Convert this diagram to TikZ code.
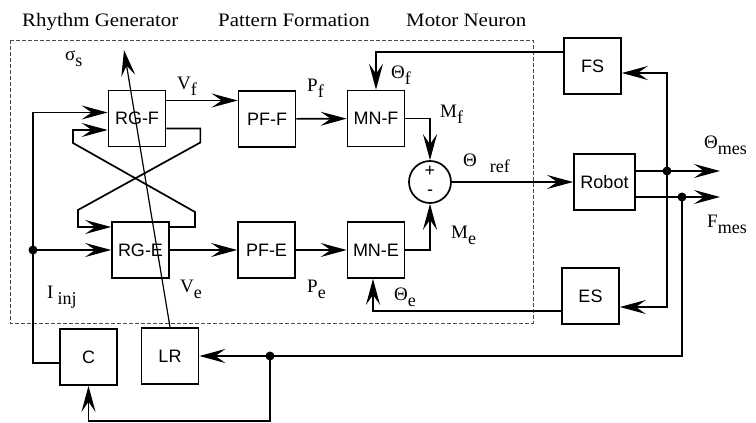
\documentclass[tikz,border=0pt]{standalone}
\usepackage{fontspec}
\setmainfont{Liberation Serif}
\newfontfamily\boxfont{Liberation Sans}
\newfontfamily\headfont[FakeStretch=1.1]{Liberation Serif}
\usetikzlibrary{arrows.meta}
\newcommand{\lsub}[2]{#1\raisebox{-6pt}{\fontsize{18}{18}\selectfont #2}}
\tikzset{
  blk/.style={draw, line width=1.7pt, minimum width=57pt, minimum height=56pt,
    inner sep=0pt, font=\boxfont\fontsize{18}{18}\selectfont},
  wire/.style={line width=1.7pt},
  arr/.style={wire, -{Stealth[length=26pt,width=14pt,inset=10pt]}},
  lbl/.style={anchor=base west, inner sep=0pt, font=\fontsize{19}{19}\selectfont},
  head/.style={anchor=base west, inner sep=0pt, font=\headfont\fontsize{19}{19}\selectfont},
  jdot/.style={circle, fill, inner sep=0pt, minimum size=9pt},
}
\begin{document}
\begin{tikzpicture}[x=1pt,y=-1pt]
    \useasboundingbox (0,0) rectangle (756,423);
    % frame of the CPG network
    \draw[dash pattern=on 4pt off 2pt, line width=0.9pt, black!70] (10,40) rectangle (533,323);
    % headings
    \node[head] (hrg) at (22,27) {Rhythm Generator};
    \node[head] (hpf) at (218,27) {Pattern Formation};
    \node[head] (hmn) at (406,27) {Motor Neuron};
    % blocks
    \node[blk] (rgf) at (137,118.5) {RG-F};
    \node[blk] (pff) at (267,119) {PF-F};
    \node[blk] (mnf) at (376,118.5) {MN-F};
    \node[blk] (rge) at (140.5,250) {RG-E};
    \node[blk] (pfe) at (266.5,250) {PF-E};
    \node[blk] (mne) at (376,250) {MN-E};
    \node[blk] (fs) at (592.5,66) {FS};
    \node[blk, minimum width=61pt] (robot) at (604.5,182) {Robot};
    \node[blk] (es) at (590.5,296) {ES};
    \node[blk] (c) at (88.5,357) {C};
    \node[blk] (lr) at (170,356) {LR};
    % summing junction
    \node[circle, draw, line width=1.7pt, minimum size=42pt, inner sep=0pt] (sum) at (430,182) {};
    \node[font=\boxfont\fontsize{18}{18}\selectfont, inner sep=0pt] (plus) at ([yshift=10.5pt]sum.center) {+};
    \node[font=\boxfont\fontsize{18}{18}\selectfont, inner sep=0pt] (minus) at ([yshift=-10.5pt]sum.center) {-};
    % junctions and free ends
    \coordinate (jin) at (33,250);
    \coordinate (j1) at (667,171);
    \coordinate (j2) at (682,197);
    \coordinate (j3) at (270,356);
    \coordinate (thout) at (720,171);
    \coordinate (fout) at (720,197);
    \coordinate (sigtip) at (124,50);
    % forward path
    \draw[arr] ([yshift=18pt]rgf.east) -- ([yshift=18pt]rgf.east -| pff.west);
    \draw[arr] (pff) -- (mnf);
    \draw[arr] (rge) -- (pfe);
    \draw[arr] (pfe) -- (mne);
    \draw[arr] (mnf.east) -| (sum.north);
    \draw[arr] (mne.east) -| (sum.south);
    \draw[arr] (sum.east) -- (robot.west);
    % mutual inhibition
    \draw[arr] ([yshift=-10pt]rgf.east) -- ++(34,0) -- ++(0,14) -- (78,210) -- (78,227) -- (78,227 -| rge.west);
    \draw[arr] ([yshift=23pt]rge.east) -- (195,227) -- (195,212) -- (73,143) -- (73,130) -- (73,130 -| rgf.west);
    % injected current
    \draw[arr] ([yshift=-6pt]c.west) -| (jin) |- ([yshift=6pt]rgf.west);
    \draw[arr] (jin) -- (jin -| rge.west);
    \node[jdot] (djin) at (jin) {};
    % learning
    \draw[line width=1.2pt, -{Stealth[length=26pt,width=14pt,inset=10pt]}] (lr.north) -- (sigtip);
    % robot outputs and sensors
    \draw[arr] ([yshift=11pt]robot.east) -- (thout);
    \draw[arr] ([yshift=-15pt]robot.east) -- (fout);
    \draw[arr] (j1) |- ([yshift=-7pt]fs.east);
    \draw[arr] (j1) |- ([yshift=-11pt]es.east);
    \draw[arr] ([yshift=14pt]fs.west) -| (mnf.north);
    \draw[arr] ([yshift=-15pt]es.west) -| ([xshift=-3pt]mne.south);
    \draw[arr] (j2) |- (lr.east);
    \draw[arr] (j3) -- ++(0,65) -| (c.south);
    \node[jdot] (dj1) at (j1) {};
    \node[jdot] (dj2) at (j2) {};
    \node[jdot] (dj3) at (j3) {};
    % labels
    \node[lbl] (lsig) at (65,60) {\lsub{σ}{s}};
    \node[lbl] (lvf) at (177,89) {\lsub{V}{f}};
    \node[lbl] (lpf) at (307,91) {\lsub{P}{f}};
    \node[lbl] (lthf) at (391,78) {\lsub{Θ}{f}};
    \node[lbl] (lmf) at (440,117) {\lsub{M}{f}};
    \node[lbl] (lref) at (463,166) {\lsub{Θ\hspace{13pt}}{ref}};
    \node[lbl] (lthm) at (704,148) {\lsub{Θ}{mes}};
    \node[lbl] (lfm) at (707,227) {\lsub{F}{mes}};
    \node[lbl] (lme) at (451,238) {\lsub{M}{e}};
    \node[lbl] (lthe) at (394,300) {\lsub{Θ}{e}};
    \node[lbl] (lve) at (180,292) {\lsub{V}{e}};
    \node[lbl] (lpe) at (307,292) {\lsub{P}{e}};
    \node[lbl] (linj) at (47,298) {\lsub{I\hspace{4pt}}{inj}};
\end{tikzpicture}
\end{document}
